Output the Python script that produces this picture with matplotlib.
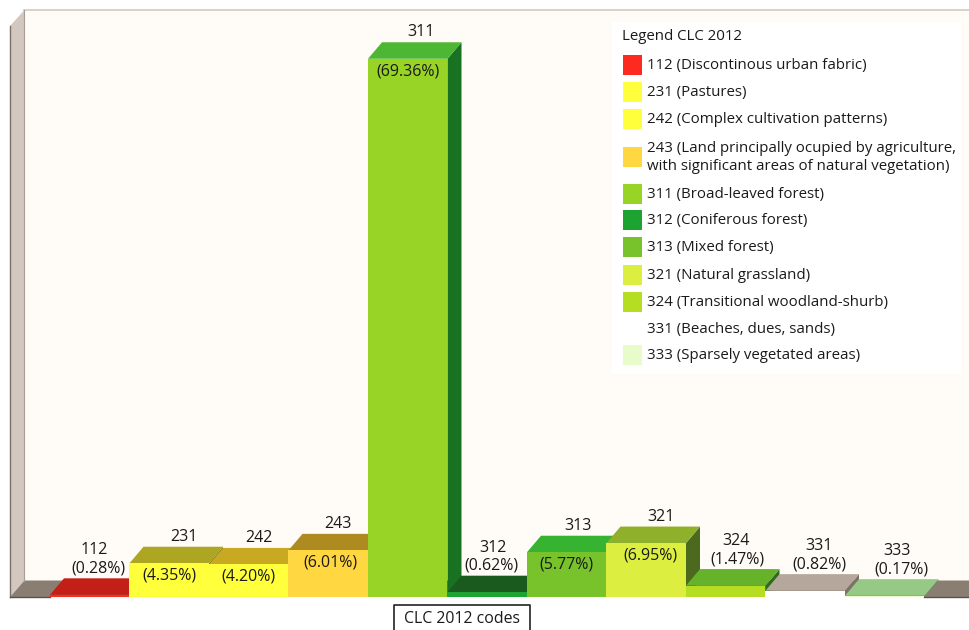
import matplotlib

matplotlib.use("Agg")
import matplotlib.pyplot as plt
from matplotlib.patches import Polygon, Rectangle

plt.rcParams["font.family"] = ["Open Sans", "DejaVu Sans"]

# Chart data
codes = ["112", "231", "242", "243", "311", "312", "313", "321", "324", "331", "333"]
percent = [0.28, 4.35, 4.20, 6.01, 69.36, 0.62, 5.77, 6.95, 1.47, 0.82, 0.17]
front_colors = ["#FF2A1F", "#FFFF3C", "#FFFF3C", "#FFD740", "#98D426", "#1CA332",
                "#78C22B", "#DCEF41", "#B5DD22", "#FFFFFF", "#E8FCCB"]
top_colors = ["#C41F16", "#ADA622", "#C9A822", "#AE8B20", "#4DB733", "#1A5A1E",
              "#35B331", "#8FB02A", "#66B32B", "#B5A79B", "#97C986"]
side_colors = ["#8A1510", "#77721A", "#8A7418", "#7A6116", "#187222", "#123F15",
               "#1F7D22", "#4B6A1E", "#2E6B1E", "#7E7167", "#6A8C5E"]

# Legend data
legend_title = "Legend CLC 2012"
legend_labels = [
    "112 (Discontinous urban fabric)",
    "231 (Pastures)",
    "242 (Complex cultivation patterns)",
    "243 (Land principally ocupied by agriculture,\nwith significant areas of natural vegetation)",
    "311 (Broad-leaved forest)",
    "312 (Coniferous forest)",
    "313 (Mixed forest)",
    "321 (Natural grassland)",
    "324 (Transitional woodland-shurb)",
    "331 (Beaches, dues, sands)",
    "333 (Sparsely vegetated areas)",
]
legend_y = [65, 92, 119, 157, 194, 220, 247, 275, 302, 329, 355]
axis_label = "CLC 2012 codes"

# Layout in pixels of the 970x630 picture
W, H = 970, 630
BASE_Y = 597
LEFT_X = 50
BAR_W = 79.5
PX_PER_PCT = 7.76
DEPTH_X = 14
DEPTH_Y = 16.5
code_dx = [4, 15, 10, 10, 13, 6, 11, 15, 10, 14, 12]
pct_dx = [9, 0, 0, 2, 0, 4, 0, 4, 12, 14, 17]

fig = plt.figure(figsize=(W / 100, H / 100), dpi=100, facecolor="white")

# Pixel axes for the room, the legend and the axis label
bg = fig.add_axes([0, 0, 1, 1], zorder=0)
bg.set_xlim(0, W)
bg.set_ylim(H, 0)
bg.axis("off")

back_top = 10
back_left = LEFT_X - 25.5
back_bottom = BASE_Y - DEPTH_Y
bg.add_patch(Rectangle((back_left, back_top), W - back_left, back_bottom - back_top,
                       fc="#FFFBF6", ec="none"))
bg.plot([back_left, W], [back_top - 0.5, back_top - 0.5], color="#D3C9C0", lw=1.2)
bg.add_patch(Polygon([(10, 26), (back_left, back_top), (back_left, back_bottom), (10, BASE_Y)],
                     fc="#D3C7BF", ec="none"))
bg.plot([back_left, back_left], [back_top, back_bottom], color="#A89D94", lw=0.8)
bg.plot([10, 10], [26, BASE_Y], color="#7A7068", lw=1.0)
bg.add_patch(Polygon([(10, BASE_Y), (back_left, back_bottom), (W, back_bottom), (W, BASE_Y)],
                     fc="#8A7E72", ec="none"))
floor_right = LEFT_X + BAR_W * len(codes)
bg.plot([10, LEFT_X], [BASE_Y, BASE_Y], color="#5A5249", lw=1.0)
bg.plot([floor_right, W], [BASE_Y, BASE_Y], color="#5A5249", lw=1.0)

# Legend
bg.add_patch(Rectangle((612.5, 22), 348.5, 352, fc="white", ec="none"))
bg.text(622.5, 37, legend_title, fontsize=10.8, va="center", color="#1A1A1A")
for label, y, color in zip(legend_labels, legend_y, front_colors):
    bg.add_patch(Rectangle((623, y - 9.75), 19.5, 19.5, fc=color, ec="none"))
    bg.text(647, y + 0.5, label, fontsize=10.8, va="center", color="#1A1A1A", linespacing=1.2)

# Axis label box, open at the picture's lower edge
bg.plot([394.5, 394.5, 530, 530], [H + 2, 604.5, 604.5, H + 2], color="#222222", lw=1.2)
bg.text(462, 619, axis_label, fontsize=11.4, ha="center", va="center", color="#1A1A1A")

# Chart axes: x in bar widths, y in percent
ax = fig.add_axes([0, 0, 1, 1], zorder=1)
ax.patch.set_alpha(0)
ax.set_xlim(-LEFT_X / BAR_W, (W - LEFT_X) / BAR_W)
ax.set_ylim((BASE_Y - H) / PX_PER_PCT, BASE_Y / PX_PER_PCT)
ax.axis("off")

dx = DEPTH_X / BAR_W
dy = DEPTH_Y / PX_PER_PCT
n_tall = 4.0  # bars above this percent carry the percent label on the front

# Left bars are farther from the viewer, so they get drawn first
for i, (code, pct) in enumerate(zip(codes, percent)):
    x0, x1 = i, i + 1
    ax.add_patch(Polygon([(x1, 0), (x1 + dx, dy), (x1 + dx, pct + dy), (x1, pct)],
                         fc=side_colors[i], ec="none"))
    ax.add_patch(Polygon([(x0, pct), (x0 + dx, pct + dy), (x1 + dx, pct + dy), (x1, pct)],
                         fc=top_colors[i], ec="none"))
    ax.add_patch(Rectangle((x0, 0), 1, pct, fc=front_colors[i], ec="none"))

for i, (code, pct) in enumerate(zip(codes, percent)):
    cx = i + 0.5
    if pct > n_tall:
        pct_off = -12.5
        pct_base = pct
        code_off = 10
    else:
        pct_off = 10
        pct_base = pct + dy
        code_off = 28
    ax.annotate(f"({pct:.2f}%)", (cx, pct_base), xytext=(pct_dx[i] * 0.72, pct_off * 0.72),
                textcoords="offset points", ha="center", va="center",
                fontsize=11.5, color="#1A1A1A")
    ax.annotate(code, (cx, pct + dy), xytext=(code_dx[i] * 0.72, code_off * 0.72),
                textcoords="offset points", ha="center", va="center",
                fontsize=11.5, color="#1A1A1A")

fig.savefig("out.png", dpi=100)
